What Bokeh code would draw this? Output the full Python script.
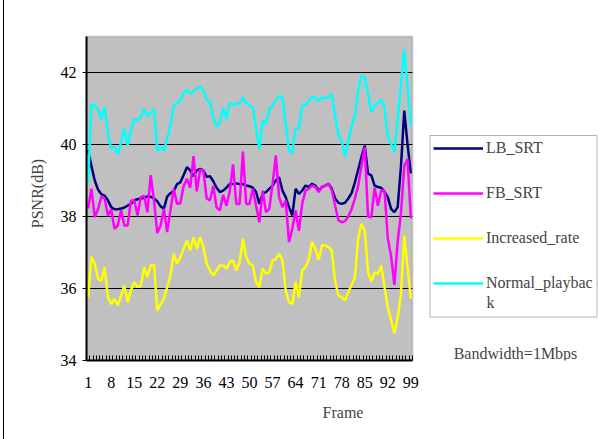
from bokeh.plotting import figure
from bokeh.models import Range1d, FixedTicker, Legend, LegendItem, Label, BoxAnnotation, InlineStyleSheet
from bokeh.embed import file_html
from bokeh.resources import INLINE

frames = list(range(1, 100))

lb_srt = [39.85, 39.4, 39.0, 38.75, 38.62, 38.58, 38.45, 38.26, 38.2, 38.2,
          38.22, 38.25, 38.3, 38.35, 38.45, 38.48, 38.5, 38.52, 38.56, 38.55,
          38.5, 38.42, 38.28, 38.22, 38.55, 38.65, 38.7, 38.9, 38.95, 39.15,
          39.37, 39.28, 39.12, 39.28, 39.32, 39.28, 39.1, 39.12, 38.98, 38.8,
          38.68, 38.72, 38.8, 38.9, 38.9, 38.92, 38.9, 38.9, 38.86, 38.84,
          38.8, 38.68, 38.35, 38.63, 38.68, 38.77, 38.86, 39.0, 39.09, 38.72,
          38.54, 38.26, 38.03, 38.77, 38.63, 38.72, 38.86, 38.82, 38.91, 38.86,
          38.72, 38.82, 38.86, 38.91, 38.77, 38.5, 38.38, 38.35, 38.38, 38.5,
          38.65, 38.95, 39.3, 39.65, 39.97, 39.19, 39.14, 38.86, 38.82, 38.8,
          38.68, 38.54, 38.21, 38.12, 38.26, 39.4, 40.94, 40.0, 39.2]

fb_srt = [38.22, 38.77, 37.98, 38.2, 38.55, 38.5, 38.03, 38.2, 37.66, 37.75,
          38.17, 37.75, 37.75, 38.44, 38.46, 38.03, 38.54, 38.58, 38.12, 39.15,
          38.44, 37.54, 37.75, 38.21, 37.57, 38.17, 38.77, 38.35, 38.37, 38.85,
          39.05, 38.8, 39.68, 38.7, 39.3, 39.28, 38.5, 38.45, 38.85, 38.25,
          38.17, 38.6, 38.3, 38.7, 39.45, 38.35, 38.35, 39.8, 38.35, 38.35,
          38.77, 38.3, 37.84, 38.72, 38.12, 38.21, 38.9, 39.7, 38.54, 38.26,
          38.44, 37.29, 37.66, 38.17, 37.6, 38.35, 38.72, 38.77, 38.86, 38.82,
          38.68, 38.82, 38.86, 38.91, 38.72, 38.3, 37.9, 37.84, 37.87, 38.0,
          38.2, 38.5, 38.85, 39.4, 39.93, 38.0, 37.98, 38.8, 38.3, 38.72,
          38.72, 37.4, 36.9, 36.1, 37.3, 38.1, 39.4, 39.6, 37.95]

increased_rate = [35.76, 36.87, 36.69, 36.27, 36.22, 36.59, 35.76, 35.57, 35.71, 35.53,
                  35.8, 36.08, 35.62, 35.95, 36.18, 36.04, 36.08, 36.59, 36.32, 36.64,
                  36.66, 35.39, 35.57, 35.71, 36.04, 36.36, 36.96, 36.69, 36.87, 37.1,
                  37.33, 37.06, 37.43, 37.1, 37.43, 37.15, 36.69, 36.5, 36.36, 36.5,
                  36.64, 36.64, 36.55, 36.73, 36.78, 36.5, 36.73, 37.38, 36.87, 36.69,
                  36.64, 36.18, 36.04, 36.55, 36.41, 36.45, 36.78, 36.82, 36.96, 36.78,
                  35.95, 35.62, 35.57, 36.18, 35.76, 36.5, 36.6, 36.8, 37.3, 37.1,
                  36.8, 37.2, 37.2, 37.15, 37.05, 36.2, 35.8, 35.76, 35.67, 35.9,
                  36.1, 36.3, 37.4, 37.8, 37.6, 36.45, 36.2, 36.45, 36.4, 36.64,
                  36.04, 35.48, 35.11, 34.76, 35.2, 35.85, 37.47, 36.59, 35.71]

normal_playback = [38.95, 41.13, 41.06, 40.99, 40.71, 41.04, 40.3, 39.88, 39.94, 39.72,
                   40.06, 40.44, 39.97, 40.39, 40.71, 40.67, 40.76, 40.99, 40.78, 40.87,
                   40.99, 39.83, 39.94, 39.83, 40.16, 40.53, 41.08, 41.15, 41.22, 41.43,
                   41.52, 41.43, 41.48, 41.55, 41.61, 41.5, 41.24, 41.2, 40.76, 40.5,
                   40.62, 41.02, 40.71, 41.15, 41.11, 41.13, 41.15, 41.3, 41.15, 41.08,
                   41.04, 40.44, 39.85, 40.67, 40.57, 40.99, 41.08, 41.22, 41.35, 41.3,
                   40.57, 39.83, 39.76, 40.46, 40.44, 41.08, 41.08, 41.22, 41.33, 41.3,
                   41.2, 41.3, 41.3, 41.33, 41.39, 40.8, 40.25, 40.1, 39.67, 40.1,
                   40.5, 40.8, 41.5, 41.92, 41.87, 41.4, 40.9, 41.08, 41.15, 41.24,
                   41.06, 40.2, 40.02, 39.79, 40.7, 41.69, 42.63, 41.59, 40.53]

series_labels = ["LB_SRT", "FB_SRT", "Increased_rate", "Normal_playbac"]
series_colors = ["#000080", "#FF00FF", "#FFFF00", "#00FFFF"]
x_tick_frames = frames[::7]
y_ticks = [34, 36, 38, 40, 42]
y_min, y_max = 34, 43
note_text = "Bandwidth=1Mbps"

FONT = "Liberation Serif"

W, H = 599, 439
PL, PR, PT, PB = 86, 412, 36, 360      # plot-area (grey box) edges, pixels
FT = 26                                 # frame top (a bit above the grey box)

x_lo = frames[0] - 0.5
x_hi = frames[-1] + 0.5
px_per_x = (PR - PL) / (x_hi - x_lo)
px_per_y = (PB - PT) / (y_max - y_min)

p = figure(width=W, height=H, output_backend="svg", toolbar_location=None,
           x_range=Range1d(x_lo, x_lo + (W - PL) / px_per_x),
           y_range=Range1d(y_min, y_max + (PT - FT) / px_per_y),
           min_border_left=PL, min_border_right=0,
           min_border_top=FT, min_border_bottom=H - PB)

# thin chart-area border line at the left edge of the picture
p.stylesheets = [InlineStyleSheet(css=(
    ":host::after { content: ''; position: absolute; left: 3px; top: 0px; bottom: 0px;"
    " width: 0px; border-left: 1px solid black; z-index: 100; pointer-events: none; }"))]

p.background_fill_color = "white"
p.border_fill_color = "white"
p.outline_line_color = None
p.xgrid.visible = False
p.ygrid.visible = False

# grey plot area
p.add_layout(BoxAnnotation(left=x_lo, right=x_hi, bottom=y_min, top=y_max,
                           fill_color="#C0C0C0", fill_alpha=1,
                           line_color="#808080", line_width=2, level="underlay"))

# horizontal grid lines
grid_y = [t for t in y_ticks if t > y_min]
p.segment(x0=[x_lo] * len(grid_y), y0=grid_y, x1=[x_hi] * len(grid_y), y1=grid_y,
          line_color="black", line_width=1)

xa = p.xaxis[0]
xa.bounds = (x_lo, x_hi)
xa.ticker = FixedTicker(ticks=x_tick_frames,
                        minor_ticks=[f - 0.5 for f in frames] + [x_hi])
xa.major_tick_line_color = None
xa.major_tick_out = 0
xa.major_tick_in = 0
xa.minor_tick_in = 5
xa.minor_tick_out = 0
xa.minor_tick_line_color = "black"
xa.axis_line_color = "black"
xa.axis_line_width = 2
xa.major_label_standoff = 16
xa.major_label_text_font = FONT
xa.major_label_text_font_size = "16px"
xa.major_label_text_color = "black"
xa.axis_label = "Frame"
xa.axis_label_text_font = FONT
xa.axis_label_text_font_size = "16px"
xa.axis_label_text_font_style = "normal"
xa.axis_label_standoff = 13

ya = p.yaxis[0]
ya.bounds = (y_min, y_max)
ya.ticker = FixedTicker(ticks=y_ticks)
ya.minor_tick_line_color = None
ya.major_tick_in = 0
ya.major_tick_out = 4
ya.major_tick_line_color = "black"
ya.axis_line_color = "black"
ya.axis_line_width = 2
ya.major_label_standoff = 6
ya.major_label_text_font = FONT
ya.major_label_text_font_size = "16px"
ya.major_label_text_color = "black"
ya.axis_label = "PSNR(dB)"
ya.axis_label_text_font = FONT
ya.axis_label_text_font_size = "16px"
ya.axis_label_text_font_style = "normal"
ya.axis_label_standoff = 12

renderers = []
for vals, col in zip([lb_srt, fb_srt, increased_rate, normal_playback], series_colors):
    r = p.line(frames, vals, line_color=col, line_width=2.5)
    renderers.append(r)

legend = Legend(items=[LegendItem(label=lab, renderers=[r]) for lab, r in zip(series_labels, renderers)],
                location=(433 - PL, PB - 293.3),
                glyph_width=50, glyph_height=20, label_height=20, label_standoff=3,
                spacing=25, padding=0, margin=0,
                border_line_color=None, background_fill_alpha=0,
                label_text_font=FONT, label_text_font_size="16px")
p.add_layout(legend)

box = BoxAnnotation(left=429.5 - PL, right=596.5 - PL, top=PB - 135, bottom=PB - 316.5,
                    left_units="screen", right_units="screen", top_units="screen", bottom_units="screen",
                    fill_color=None, fill_alpha=0, line_color="black", line_width=1)
p.add_layout(box)

p.add_layout(Label(x=486 - PL, y=PB - 301.5, x_units="screen", y_units="screen", text="k",
                   text_baseline="middle", text_font=FONT, text_font_size="16px"))
p.add_layout(Label(x=515 - PL, y=PB - 352.5, x_units="screen", y_units="screen", text=note_text,
                   text_align="center", text_baseline="middle", text_font=FONT, text_font_size="16px"))

open("out.html", "w").write(file_html(p, INLINE))
